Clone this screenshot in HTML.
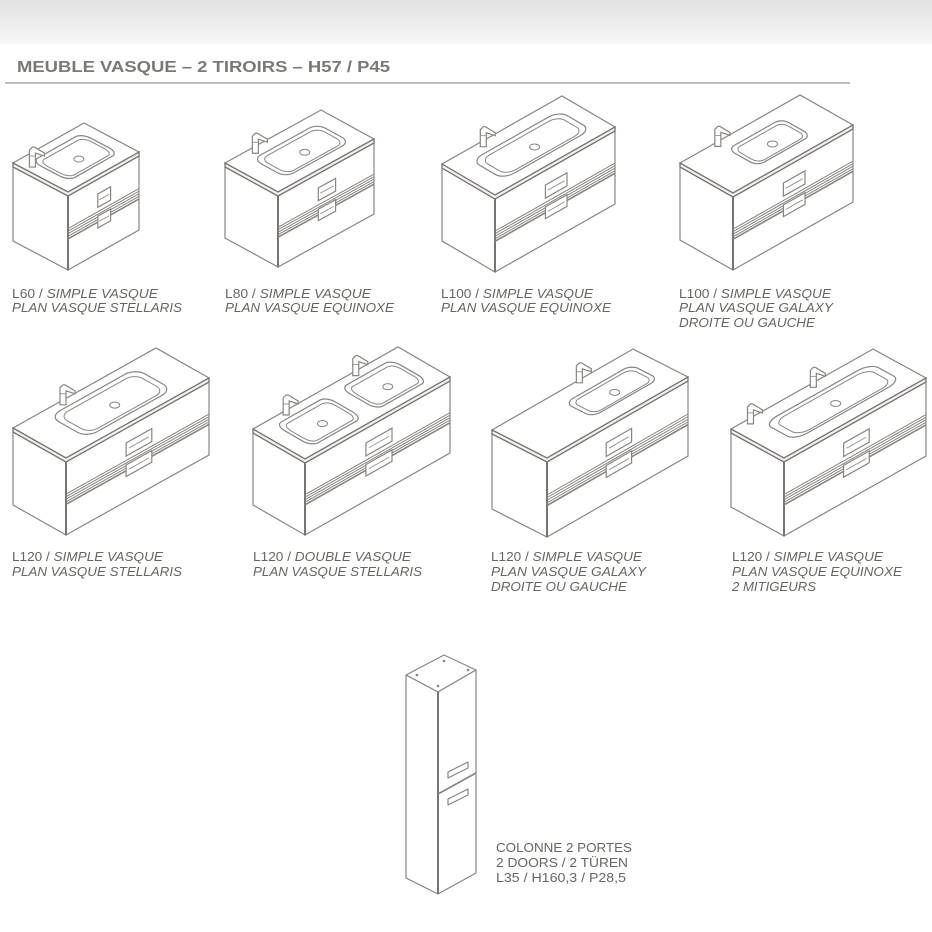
<!DOCTYPE html>
<html><head><meta charset="utf-8"><style>
html,body{margin:0;padding:0;background:#fff}
svg{display:block}
text{font-family:"Liberation Sans",sans-serif;fill:#6a6461;font-size:13px}
.i{font-style:italic}
</style></head><body>
<svg id="s" width="932" height="932" viewBox="0 0 932 932" xmlns="http://www.w3.org/2000/svg">
<defs><linearGradient id="g" x1="0" y1="0" x2="0" y2="1"><stop offset="0" stop-color="#e2e2e2"/><stop offset="1" stop-color="#f7f7f7"/></linearGradient></defs>
<rect x="0" y="0" width="932" height="44" fill="url(#g)"/>
<text x="17" y="72" style="font-weight:bold;font-size:16px;fill:#7d7875" textLength="373" lengthAdjust="spacingAndGlyphs">MEUBLE VASQUE – 2 TIROIRS – H57 / P45</text>
<line x1="5" y1="83" x2="850" y2="83" stroke="#9a9693" stroke-width="1.3"/>
<g id="draw"></g>

<text x="12" y="298" textLength="146" lengthAdjust="spacingAndGlyphs">L60 / <tspan class="i">SIMPLE VASQUE</tspan></text>
<text x="12" y="312" class="i" textLength="170" lengthAdjust="spacingAndGlyphs">PLAN VASQUE STELLARIS</text>
<text x="225" y="298" textLength="146" lengthAdjust="spacingAndGlyphs">L80 / <tspan class="i">SIMPLE VASQUE</tspan></text>
<text x="225" y="312" class="i" textLength="169" lengthAdjust="spacingAndGlyphs">PLAN VASQUE EQUINOXE</text>
<text x="441" y="298" textLength="152" lengthAdjust="spacingAndGlyphs">L100 / <tspan class="i">SIMPLE VASQUE</tspan></text>
<text x="441" y="312" class="i" textLength="170" lengthAdjust="spacingAndGlyphs">PLAN VASQUE EQUINOXE</text>
<text x="679" y="298" textLength="152" lengthAdjust="spacingAndGlyphs">L100 / <tspan class="i">SIMPLE VASQUE</tspan></text>
<text x="679" y="312" class="i" textLength="154" lengthAdjust="spacingAndGlyphs">PLAN VASQUE GALAXY</text>
<text x="679" y="327" class="i" textLength="136" lengthAdjust="spacingAndGlyphs">DROITE OU GAUCHE</text>

<text x="12" y="561" textLength="151" lengthAdjust="spacingAndGlyphs">L120 / <tspan class="i">SIMPLE VASQUE</tspan></text>
<text x="12" y="576" class="i" textLength="170" lengthAdjust="spacingAndGlyphs">PLAN VASQUE STELLARIS</text>
<text x="253" y="561" textLength="158" lengthAdjust="spacingAndGlyphs">L120 / <tspan class="i">DOUBLE VASQUE</tspan></text>
<text x="253" y="576" class="i" textLength="169" lengthAdjust="spacingAndGlyphs">PLAN VASQUE STELLARIS</text>
<text x="491" y="561" textLength="151" lengthAdjust="spacingAndGlyphs">L120 / <tspan class="i">SIMPLE VASQUE</tspan></text>
<text x="491" y="576" class="i" textLength="155" lengthAdjust="spacingAndGlyphs">PLAN VASQUE GALAXY</text>
<text x="491" y="591" class="i" textLength="136" lengthAdjust="spacingAndGlyphs">DROITE OU GAUCHE</text>
<text x="732" y="561" textLength="151" lengthAdjust="spacingAndGlyphs">L120 / <tspan class="i">SIMPLE VASQUE</tspan></text>
<text x="732" y="576" class="i" textLength="170" lengthAdjust="spacingAndGlyphs">PLAN VASQUE EQUINOXE</text>
<text x="732" y="591" class="i" textLength="84" lengthAdjust="spacingAndGlyphs">2 MITIGEURS</text>

<text x="496" y="852" textLength="136" lengthAdjust="spacingAndGlyphs">COLONNE 2 PORTES</text>
<text x="496" y="867" textLength="132" lengthAdjust="spacingAndGlyphs">2 DOORS / 2 TÜREN</text>
<text x="496" y="882" textLength="130" lengthAdjust="spacingAndGlyphs">L35 / H160,3 / P28,5</text>

<g fill="none" stroke="#8a8582" stroke-width="1.2" stroke-linejoin="round">
<polygon points="406,675 444,655 476,670 438,692" fill="#fff"/>
<polygon points="406,675 438,692 438,894 406,878" fill="#fff"/>
<polygon points="438,692 476,670 476,873 438,894" fill="#fff"/>
<line x1="438" y1="692" x2="438" y2="894" stroke="#7a7370" stroke-width="2"/>
<line x1="438" y1="794" x2="476" y2="773" stroke-width="1.6"/>
<polygon points="448,772 468,762 468,768 448,778"/>
<polygon points="448,799 468,789 468,795 448,805"/>
</g>
<g fill="#8a8582"><circle cx="417" cy="675" r="1.3"/><circle cx="444" cy="661" r="1.3"/><circle cx="468" cy="670" r="1.3"/><circle cx="438" cy="686" r="1.3"/></g>
</svg>
<script>
var NS="http://www.w3.org/2000/svg",G=document.getElementById("draw");
function el(t,a){var e=document.createElementNS(NS,t);for(var k in a)e.setAttribute(k,a[k]);G.appendChild(e);return e;}
function pts(a){return a.map(function(p){return p[0].toFixed(1)+","+p[1].toFixed(1)}).join(" ");}
var C="#8a8582";
function cab(L,F,R,Hb,basins,faucets){
 var d=[R[0]-F[0],R[1]-F[1]],s=[F[0]-L[0],F[1]-L[1]];
 var B=[R[0]-s[0],R[1]-s[1]];
 var th=4,H=Hb-F[1];
 function P(u,v){return [F[0]+u*d[0]-v*s[0],F[1]+u*d[1]-v*s[1]];}
 function FR(u,t){return [F[0]+u*d[0],F[1]+th+t*(H-th)+u*d[1]];}
 el("polygon",{points:pts([[L[0],L[1]+th],[F[0],F[1]+th],[F[0],Hb],[L[0],Hb-s[1]]]),fill:"#fff",stroke:C,"stroke-width":1.2});
 el("polygon",{points:pts([[F[0],F[1]+th],[R[0],R[1]+th],[R[0],Hb+d[1]],[F[0],Hb]]),fill:"#fff",stroke:C,"stroke-width":1.2});
 el("polygon",{points:pts([L,F,R,B]),fill:"#fff",stroke:C,"stroke-width":1.2});
 el("polygon",{points:pts([L,F,R,[R[0],R[1]+th],[F[0],F[1]+th],[L[0],L[1]+th]]),fill:"#f4f3f3",stroke:"#7a7370","stroke-width":1.3});
 el("line",{x1:F[0],y1:F[1]+th,x2:F[0],y2:Hb,stroke:"#7a7370","stroke-width":2});
 for(var i=0;i<5;i++){var t=0.44+i*0.035,a=FR(0,t),b=FR(1,t);
  el("line",{x1:a[0],y1:a[1],x2:b[0],y2:b[1],stroke:C,"stroke-width":i==4?1.6:1});}
 [[0.2,0.38],[0.5,0.66]].forEach(function(h){
  var u0=0.42,u1=0.6;el("polygon",{points:pts([FR(u0,h[0]),FR(u1,h[0]),FR(u1,h[1]),FR(u0,h[1])]),fill:"#fff",stroke:C,"stroke-width":1.2});
  var u2=0.44,u3=0.58,m=(h[0]+h[1])/2;el("line",{x1:FR(u2,m)[0],y1:FR(u2,m)[1],x2:FR(u3,m)[0],y2:FR(u3,m)[1],stroke:C,"stroke-width":0.8});
 });
 var M="matrix("+d[0]+","+d[1]+","+(-s[0])+","+(-s[1])+","+F[0]+","+F[1]+")";
 basins.forEach(function(b){
  el("rect",{x:b[0],y:b[1],width:b[2]-b[0],height:b[3]-b[1],rx:(b[2]-b[0])*0.12,ry:(b[3]-b[1])*0.25,transform:M,fill:"#fff",stroke:C,"stroke-width":1.2,"vector-effect":"non-scaling-stroke"});
  var iu=(b[2]-b[0])*0.06,iv=(b[3]-b[1])*0.12;
  el("rect",{x:b[0]+iu,y:b[1]+iv*0.6,width:b[2]-b[0]-2*iu,height:b[3]-b[1]-iv*1.6,rx:(b[2]-b[0])*0.1,ry:(b[3]-b[1])*0.22,transform:M,fill:"none",stroke:C,"stroke-width":1,"vector-effect":"non-scaling-stroke"});
  var c=P((b[0]+b[2])/2,b[1]+(b[3]-b[1])*0.4);
  el("ellipse",{cx:c[0],cy:c[1],rx:5,ry:3,fill:"none",stroke:C,"stroke-width":1});
 });
 faucets.forEach(function(f){var p=P(f[0],f[1]);var x=p[0],y=p[1];
  el("path",{d:"M"+(x-3)+","+y+" v-17 l3,-3 h2 l10,6 v3 l-9,-3 v14 z",fill:"#fff",stroke:C,"stroke-width":1.2});
  el("line",{x1:x-3,y1:y-11,x2:x+3,y2:y-11,stroke:C,"stroke-width":0.8});
 });
}
cab([13,163],[68,192],[139,152],270,[[0.15,0.18,0.85,0.85]],[[0.08,0.75]]);
cab([225,163],[278,192],[374,139],267,[[0.18,0.18,0.85,0.8]],[[0.25,0.88]]);
cab([442,164],[495,195],[615,127],272,[[0.15,0.18,0.88,0.78]],[[0.3,0.9]]);
cab([680,163],[733,193],[853,125],270,[[0.3,0.22,0.75,0.78]],[[0.28,0.92]]);
cab([13,428],[66,458],[209,378],535,[[0.2,0.15,0.8,0.85]],[[0.32,0.92]]);
cab([253,429],[305,459],[450,377],535,[[0.1,0.15,0.45,0.85],[0.55,0.15,0.9,0.85]],[[0.2,0.92],[0.68,0.92]]);
cab([492,430],[547,458],[688,377],537,[[0.42,0.25,0.89,0.75]],[[0.6,0.95]]);
cab([731,429],[784,458],[926,378],536,[[0.15,0.2,0.9,0.78]],[[0.1,0.9],[0.55,0.92]]);
</script>
</body></html>
